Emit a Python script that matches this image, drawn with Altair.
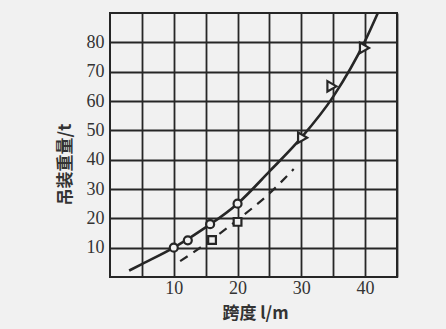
import altair as alt
import pandas as pd

# Solid curve
solid_x = [3, 5, 10, 15, 20, 25, 30, 35, 40, 42]
solid_y = [2.2, 4.4, 10, 16.9, 25, 36, 47.5, 61.5, 80.5, 90]
# Dashed curve
dash_x = [11, 15, 20, 25, 28.8]
dash_y = [5.4, 11.3, 19.5, 28.5, 36.8]
# Markers
circle_x = [10, 12.2, 15.7, 20]
circle_y = [10, 12.5, 18, 25]
square_x = [16, 20]
square_y = [12.6, 18.8]
tri_x = [30.2, 34.8, 39.9]
tri_y = [47.5, 65.0, 78.1]

x_grid = [5, 10, 15, 20, 25, 30, 35, 40, 45]
y_grid = [10, 20, 30, 40, 50, 60, 70, 80]

BG = "#f1f1f1"
INK = "#262626"

rows = []
for kind, xs_, ys_ in [("solid", solid_x, solid_y), ("dash", dash_x, dash_y),
                       ("circle", circle_x, circle_y), ("square", square_x, square_y),
                       ("tri", tri_x, tri_y)]:
    for i, (a, b) in enumerate(zip(xs_, ys_)):
        rows.append({"x": a, "y": b, "kind": kind, "order": i})
df = pd.DataFrame(rows)

X = alt.X(
    "x:Q",
    scale=alt.Scale(domain=[0, 45], nice=False, zero=False),
    axis=alt.Axis(
        values=x_grid,
        labelExpr="datum.value % 10 == 0 ? datum.label : ''",
        ticks=False, domain=False, grid=True,
        gridColor=INK, gridWidth=1.8,
        labelFont="Liberation Serif", labelFontSize=18, labelColor="#333333",
        labelPadding=2, labelFlush=False,
        title="跨度 l/m", titleFont="Noto Sans CJK SC", titleFontSize=17,
        titleFontWeight="bold", titleColor="#333333",
        titleX=145, titleY=36, titleBaseline="middle", titleAlign="center",
    ),
)
Y = alt.Y(
    "y:Q",
    scale=alt.Scale(domain=[0, 90], nice=False, zero=True),
    axis=alt.Axis(
        values=y_grid,
        ticks=False, domain=False, grid=True,
        gridColor=INK, gridWidth=1.8,
        labelFont="Liberation Serif", labelFontSize=18, labelColor="#333333",
        labelPadding=6, labelFlush=False,
        title="吊装重量/t", titleFont="Noto Sans CJK SC", titleFontSize=17,
        titleFontWeight="bold", titleColor="#333333",
        titleAngle=-90, titleX=-45, titleY=151,
        titleBaseline="middle", titleAlign="center",
    ),
)

base = alt.Chart(df)

solid = base.transform_filter("datum.kind == 'solid'").mark_line(
    color=INK, strokeWidth=2.6, interpolate="monotone"
).encode(x=X, y=Y, order="order:Q")

dash = base.transform_filter("datum.kind == 'dash'").mark_line(
    color=INK, strokeWidth=2.2, strokeDash=[9, 7], interpolate="monotone"
).encode(x=X, y=Y, order="order:Q")

circles = base.transform_filter("datum.kind == 'circle'").mark_point(
    shape="circle", size=64, fill=BG, stroke=INK, strokeWidth=2.2, opacity=1, fillOpacity=1
).encode(x=X, y=Y)

squares = base.transform_filter("datum.kind == 'square'").mark_point(
    shape="square", size=60, fill=BG, stroke=INK, strokeWidth=2.2, opacity=1, fillOpacity=1
).encode(x=X, y=Y)

tris = base.transform_filter("datum.kind == 'tri'").mark_point(
    shape="triangle-right", size=110, fill=BG, stroke=INK, strokeWidth=2.2, opacity=1, fillOpacity=1
).encode(x=X, y=Y)

chart = alt.layer(solid, dash, circles, squares, tris).properties(
    width=287, height=264,
    autosize=alt.AutoSizeParams(type="none"),
    padding={"left": 110, "top": 13, "right": 49, "bottom": 52},
    background=BG,
).configure_view(stroke=INK, strokeWidth=2, fill=BG)

chart.save("out.html", embed_options={"renderer": "svg", "actions": False})
